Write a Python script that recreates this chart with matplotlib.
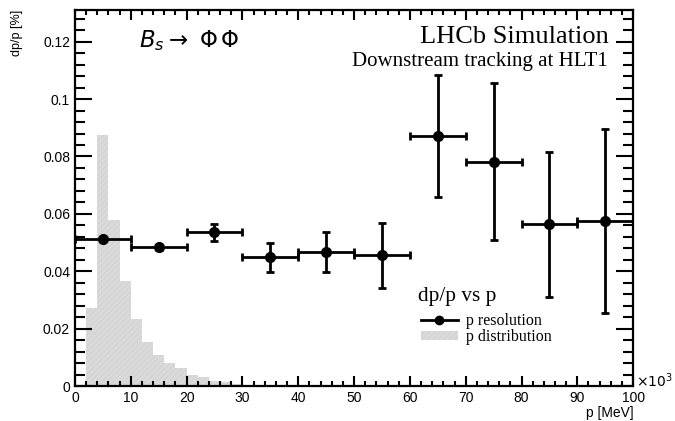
import matplotlib
matplotlib.use("Agg")
import matplotlib.pyplot as plt
from matplotlib.ticker import MultipleLocator, FuncFormatter
from matplotlib.lines import Line2D
from matplotlib.patches import Patch

# momentum bins (units of 10^3 MeV) and resolution values
p_centers = [5, 15, 25, 35, 45, 55, 65, 75, 85, 95]
p_halfwidth = [5, 5, 5, 5, 5, 5, 5, 5, 5, 5]
resolution = [0.0512, 0.0483, 0.0536, 0.0448, 0.0468, 0.0456, 0.0871, 0.0782, 0.0564, 0.0575]
resolution_err = [0.0008, 0.0008, 0.0030, 0.0049, 0.0070, 0.0113, 0.0212, 0.0273, 0.0252, 0.0322]

# normalised momentum distribution
dist_edges = [2, 4, 6, 8, 10, 12, 14, 16, 18, 20, 22, 24, 26, 28, 30]
dist_values = [0.0271, 0.0876, 0.0580, 0.0365, 0.0233, 0.0153, 0.0108, 0.0081,
               0.0062, 0.0039, 0.0033, 0.0018, 0.0014, 0.0008]

sans = ["Liberation Sans", "DejaVu Sans"]
serif = ["Liberation Serif", "DejaVu Serif"]
plt.rcParams["hatch.color"] = "#c4c4c4"
plt.rcParams["hatch.linewidth"] = 0.6

fig = plt.figure(figsize=(6.75, 4.21), dpi=100)
ax = fig.add_axes([0.111, 0.083, 0.827, 0.893])

ax.hist(dist_edges[:-1], bins=dist_edges, weights=dist_values,
        histtype="stepfilled", facecolor="#dadada", edgecolor="#cfcfcf",
        hatch="//////", linewidth=0.0, zorder=1)

ax.errorbar(p_centers, resolution, xerr=p_halfwidth, yerr=resolution_err,
            fmt="o", color="black", markersize=7, elinewidth=2.0,
            capsize=3, capthick=2.0, zorder=3)

ax.set_xlim(0, 100)
ax.set_ylim(0, 0.131)
ax.xaxis.set_major_locator(MultipleLocator(10))
ax.xaxis.set_minor_locator(MultipleLocator(2))
ax.yaxis.set_major_locator(MultipleLocator(0.02))
ax.yaxis.set_minor_locator(MultipleLocator(0.004))
ax.yaxis.set_major_formatter(FuncFormatter(
    lambda v, _: "0" if abs(v) < 1e-9 else ("%.2f" % v).rstrip("0")))

ax.tick_params(which="both", direction="in", top=True, right=True,
               width=1.5, labelsize=10)
ax.tick_params(axis="x", which="major", length=7)
ax.tick_params(axis="x", which="minor", length=3.6)
ax.tick_params(axis="y", which="major", length=12.5)
ax.tick_params(axis="y", which="minor", length=7)
for lab in ax.get_xticklabels() + ax.get_yticklabels():
    lab.set_family(sans)
for s in ax.spines.values():
    s.set_linewidth(1.6)

ax.set_xlabel("p [MeV]", family=sans, fontsize=10, loc="right", labelpad=1)
ax.set_ylabel("dp/p [%]", family=sans, fontsize=9, loc="top", labelpad=14)
ax.text(1.005, 0.014, r"$\times10^{3}$", transform=ax.transAxes, ha="left",
        va="center", fontsize=10, family=sans)

ax.text(0.115, 0.918, r"$B_s \rightarrow\ \mathit{\Phi\,\Phi}$", transform=ax.transAxes,
        fontsize=16.5, ha="left", va="center", family=sans)
ax.text(0.957, 0.928, "LHCb Simulation", transform=ax.transAxes,
        fontsize=19, ha="right", va="center", family=serif)
ax.text(0.955, 0.862, "Downstream tracking at HLT1", transform=ax.transAxes,
        fontsize=15, ha="right", va="center", family=serif)

ax.text(0.615, 0.238, "dp/p vs p", transform=ax.transAxes, ha="left",
        va="center", fontsize=15.3, family=serif)
handles = [
    Line2D([0], [0], color="black", marker="o", markersize=6, linewidth=2),
    Patch(facecolor="#dadada", edgecolor="#cfcfcf", hatch="//////", linewidth=0),
]
ax.legend(handles, ["p resolution", "p distribution"], loc="upper left",
          bbox_to_anchor=(0.62, 0.195), frameon=False,
          prop={"family": serif, "size": 11.5},
          labelspacing=0.0, handlelength=2.3, handleheight=0.5,
          handletextpad=0.5, borderaxespad=0, borderpad=0)

fig.savefig("out.png", dpi=100)
